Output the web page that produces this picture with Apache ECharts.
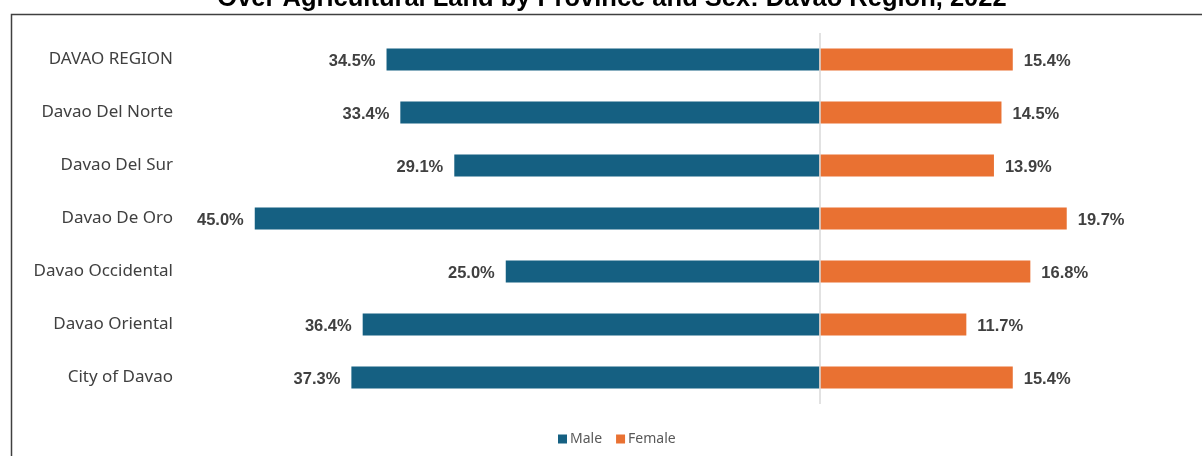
<!DOCTYPE html>
<html lang="en">
<head>
  <meta charset="UTF-8">
  <title>Agricultural Land by Province and Sex</title>
  <style>
    html, body { margin: 0; padding: 0; background: #fff; }
    #main { width: 1202px; height: 456px; }
  </style>
</head>
<body>
  <div id="main"></div>
  <script src="https://cdn.jsdelivr.net/npm/echarts@6/dist/echarts.min.js"></script>
  <script>
    var provinces = ['DAVAO REGION', 'Davao Del Norte', 'Davao Del Sur', 'Davao De Oro',
      'Davao Occidental', 'Davao Oriental', 'City of Davao'];
    var male = [34.5, 33.4, 29.1, 45.0, 25.0, 36.4, 37.3];
    var female = [15.4, 14.5, 13.9, 19.7, 16.8, 11.7, 15.4];
    var titleText = 'Over Agricultural Land by Province and Sex: Davao Region, 2022';

    var myChart = echarts.init(document.getElementById('main'));

    var labelStyle = {
      show: true,
      fontFamily: 'Liberation Sans',
      fontWeight: 'bold',
      fontSize: 16.5,
      color: '#404040',
      distance: 11,
      offset: [0, 1.5],
      formatter: function (p) { return Math.abs(p.value).toFixed(1) + '%'; }
    };

    var option = {
      animation: false,
      graphic: [{
        type: 'rect',
        shape: { x: 11.5, y: 14.5, width: 1300, height: 600 },
        style: { fill: null, stroke: '#404040', lineWidth: 1.5 },
        silent: true
      }, {
        // title is cut off at the top in the original
        type: 'text',
        x: 612,
        y: 12,
        silent: true,
        style: {
          text: titleText,
          align: 'center',
          verticalAlign: 'bottom',
          font: 'bold 25.5px "Liberation Sans"',
          fill: '#000'
        }
      }],
      legend: {
        bottom: 5,
        left: 553,
        itemWidth: 9,
        itemHeight: 9,
        itemGap: 14,
        icon: 'rect',
        textStyle: { fontFamily: 'Noto Sans', fontSize: 14, color: '#595959', padding: [0, 0, 0, -2] },
        data: ['Male', 'Female']
      },
      grid: { left: 192, right: 6, top: 33, bottom: 52, containLabel: false },
      xAxis: {
        type: 'value',
        min: -50,
        max: 30,
        show: false
      },
      yAxis: {
        type: 'category',
        data: provinces,
        inverse: true,
        axisTick: { show: false },
        axisLine: { show: false },
        axisLabel: {
          margin: 19,
          fontFamily: 'Noto Sans',
          fontSize: 17,
          color: '#404040',
          padding: [2, 0, 0, 0]
        }
      },
      series: [{
        name: 'Male',
        type: 'bar',
        stack: 'sex',
        barWidth: 22,
        itemStyle: { color: '#156082' },
        label: Object.assign({ position: 'left' }, labelStyle),
        data: male.map(function (v) { return -v; })
      }, {
        name: 'Female',
        type: 'bar',
        stack: 'sex',
        barWidth: 22,
        itemStyle: { color: '#E97132' },
        label: Object.assign({ position: 'right' }, labelStyle),
        data: female,
        markLine: {
          silent: true,
          symbol: 'none',
          label: { show: false },
          lineStyle: { color: '#d9d9d9', width: 1.5, type: 'solid' },
          data: [{ xAxis: 0 }]
        }
      }]
    };

    option && myChart.setOption(option);
  </script>
</body>
</html>
